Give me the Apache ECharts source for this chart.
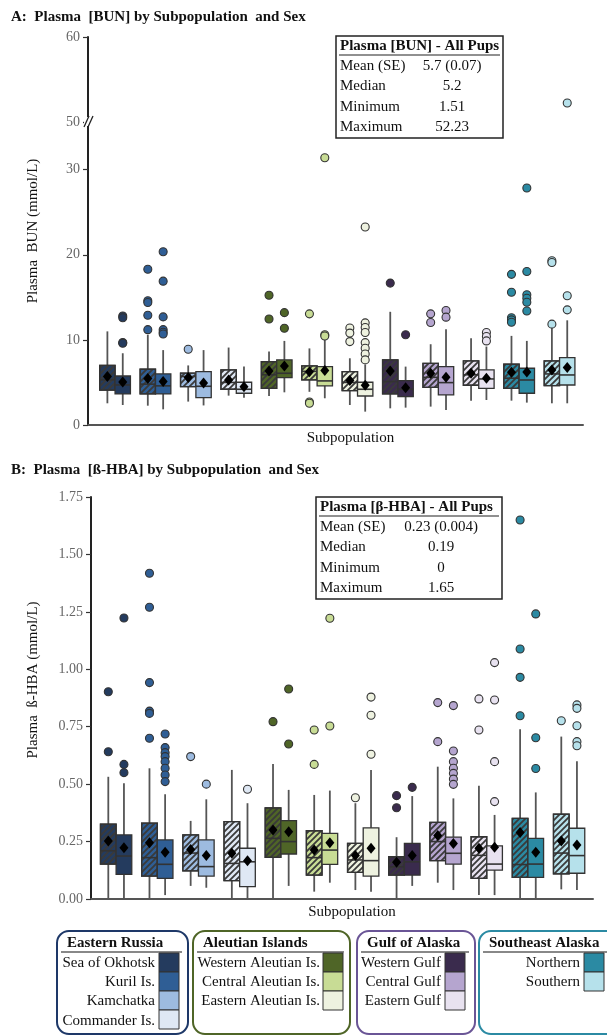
<!DOCTYPE html>
<html>
<head>
<meta charset="utf-8">
<script src="https://cdn.jsdelivr.net/npm/echarts@6.0.0/dist/echarts.min.js"></script>
<style>
  html, body { margin: 0; padding: 0; background: #fff; }
  #main { width: 607px; height: 1036px; }
</style>
</head>
<body>
<div id="main"></div>
<script>
// subpopulations (one pair of boxes each: female hatched, male plain)
var subpops = ['Sea of Okhotsk', 'Kuril Is.', 'Kamchatka', 'Commander Is.',
  'Western Aleutian Is.', 'Central Aleutian Is.', 'Eastern Aleutian Is.',
  'Western Gulf', 'Central Gulf', 'Eastern Gulf', 'Northern', 'Southern'];
var subColors = ['#243b5e', '#2f5e95', '#9dbbe0', '#dfe8f4',
  '#4f6527', '#c8dc95', '#eef2e0',
  '#3a2b4d', '#b5a5cf', '#e8e2f0', '#2b8aa3', '#b6e1eb'];
var regions = ['Eastern Russia', 'Aleutian Islands', 'Gulf of Alaska', 'Southeast Alaska'];
var regionSize = [4, 3, 3, 2];
var regionBorder = ['#1e3868', '#4f6527', '#6a5596', '#2b8aa3'];

// [low whisker, q1, median, q3, high whisker, mean]
var bunFemale = [
  [2.55, 4.1, 5.3, 7.0, 11.0, 5.7],
  [2.27, 3.65, 4.8, 6.55, 10.6, 5.45],
  [2.75, 4.5, 5.7, 6.1, 7.0, 5.57],
  [3.45, 4.2, 5.0, 6.47, 9.1, 5.3],
  [3.4, 4.3, 5.9, 7.45, 8.63, 6.35],
  [3.9, 5.3, 6.3, 6.94, 9.0, 6.27],
  [2.35, 4.04, 5.0, 6.27, 7.84, 5.22],
  [1.96, 3.65, 5.1, 7.65, 13.3, 6.35],
  [2.16, 4.43, 5.6, 7.25, 9.49, 6.08],
  [2.86, 4.67, 5.9, 7.53, 10.2, 6.08],
  [2.86, 4.31, 5.5, 7.14, 10.47, 6.2],
  [2.55, 4.63, 6.0, 7.53, 11.84, 6.47]
];
var bunMale = [
  [2.35, 3.65, 4.7, 5.76, 8.43, 5.06],
  [1.84, 3.65, 4.6, 6.0, 8.8, 5.1],
  [2.3, 3.22, 4.55, 6.27, 8.8, 4.94],
  [3.2, 3.73, 4.2, 5.02, 6.86, 4.5],
  [3.84, 5.57, 6.08, 7.65, 9.88, 6.94],
  [3.14, 4.6, 5.18, 6.86, 10.0, 6.39],
  [1.57, 3.41, 4.2, 5.02, 7.1, 4.67],
  [2.04, 3.33, 4.2, 5.22, 6.86, 4.39],
  [1.76, 3.53, 4.98, 6.86, 11.25, 5.6],
  [2.94, 4.31, 5.41, 6.47, 9.22, 5.49],
  [2.63, 3.73, 5.29, 6.67, 9.88, 6.24],
  [2.55, 4.7, 5.88, 7.92, 12.3, 6.75]
];
var bunFemaleOut = [
  [], [18.3, 14.6, 14.4, 12.9, 11.2], [8.9], [], [15.25, 12.45], [13.06, 2.7, 2.55],
  [11.4, 10.8, 9.8], [16.67], [13.06, 12.04], [], [17.7, 15.6, 12.6, 12.35, 12.08], [19.3, 19.1, 11.85]
];
var bunMaleOut = [
  [12.8, 12.6, 9.7, 9.6], [20.35, 16.9, 12.7, 11.2, 10.9, 10.7], [], [], [13.2, 11.37], [31.4, 10.6, 10.45],
  [23.26, 12.0, 11.45, 10.86, 9.68, 9.02, 8.35, 7.65], [10.6], [13.45, 12.67], [10.86, 10.39, 9.88],
  [27.84, 18.04, 15.3, 14.9, 14.43, 13.4], [52.23, 15.18, 13.53]
];

var hbaFemale = [
  [0.0, 0.152, 0.21, 0.326, 0.532, 0.252],
  [0.0, 0.10, 0.18, 0.33, 0.569, 0.245],
  [0.057, 0.122, 0.20, 0.279, 0.34, 0.216],
  [0.0, 0.08, 0.155, 0.337, 0.562, 0.199],
  [0.0, 0.181, 0.264, 0.397, 0.588, 0.30],
  [0.032, 0.104, 0.18, 0.297, 0.453, 0.213],
  [0.039, 0.116, 0.17, 0.242, 0.417, 0.189],
  [0.0, 0.104, 0.14, 0.184, 0.269, 0.16],
  [0.071, 0.167, 0.25, 0.334, 0.576, 0.276],
  [0.017, 0.09, 0.19, 0.271, 0.493, 0.221],
  [0.0, 0.094, 0.15, 0.351, 0.739, 0.289],
  [0.042, 0.109, 0.2, 0.369, 0.707, 0.252]
];
var hbaMale = [
  [0.0, 0.107, 0.187, 0.279, 0.504, 0.223],
  [0.017, 0.09, 0.151, 0.257, 0.456, 0.203],
  [0.049, 0.10, 0.141, 0.257, 0.434, 0.189],
  [0.0, 0.054, 0.162, 0.221, 0.417, 0.167],
  [0.057, 0.196, 0.25, 0.341, 0.475, 0.293],
  [0.071, 0.151, 0.213, 0.286, 0.472, 0.245],
  [0.032, 0.10, 0.167, 0.31, 0.562, 0.221],
  [0.057, 0.104, 0.162, 0.242, 0.448, 0.189],
  [0.039, 0.152, 0.199, 0.269, 0.438, 0.242],
  [0.017, 0.126, 0.152, 0.231, 0.366, 0.225],
  [0.0, 0.094, 0.152, 0.264, 0.464, 0.203],
  [0.039, 0.112, 0.189, 0.308, 0.60, 0.235]
];
var hbaFemaleOut = [
  [0.902, 0.641], [1.418, 1.27, 0.942, 0.818, 0.808, 0.70], [0.62], [], [0.772], [0.736, 0.586],
  [0.441], [0.45, 0.397], [0.855, 0.685], [0.871, 0.736], [1.65, 1.088, 0.965, 0.798], [0.776]
];
var hbaMaleOut = [
  [1.223, 0.586, 0.55], [0.718, 0.659, 0.637, 0.62, 0.598, 0.569, 0.54, 0.511], [0.50], [0.478],
  [0.914, 0.675], [1.222, 0.753], [0.879, 0.80, 0.63], [0.486],
  [0.842, 0.644, 0.598, 0.569, 0.547, 0.522, 0.499], [1.029, 0.866, 0.598, 0.424],
  [1.241, 0.702, 0.568], [0.845, 0.83, 0.754, 0.685, 0.667]
];

// summary tables
var statLabels = ['Mean (SE)', 'Median', 'Minimum', 'Maximum'];
var bunStatValues = ['5.7 (0.07)', '5.2', '1.51', '52.23'];
var hbaStatValues = ['0.23 (0.004)', '0.19', '0', '1.65'];

// BUN axis is broken: lower part 0..BREAK_LO, upper part BREAK_HI..60
var BREAK_LO = 35.6, BREAK_HI = 50;

var SERIF = '"Liberation Serif", "Times New Roman", serif';
var OFFSET = 0.19; // half of dodge distance, in pair units
var HALF = 0.19;   // half box width

// diagonal hatch tile for the female boxes
var hatch = document.createElement('canvas');
hatch.width = 6; hatch.height = 6;
(function () {
  var ctx = hatch.getContext('2d');
  ctx.strokeStyle = '#3a3a3a';
  ctx.lineWidth = 1.8;
  ctx.beginPath();
  ctx.moveTo(-1, 7); ctx.lineTo(7, -1);
  ctx.moveTo(-1, 1); ctx.lineTo(1, -1);
  ctx.moveTo(5, 7); ctx.lineTo(7, 5);
  ctx.stroke();
})();

function boxData(rows, side, hatched) {
  return rows.map(function (r, i) {
    return [i + side * OFFSET, r[0], r[1], r[2], r[3], r[4], r[5], i, hatched];
  });
}

function outData(lists, side, keep) {
  var res = [];
  lists.forEach(function (list, i) {
    list.forEach(function (v) {
      if (keep(v)) res.push({ value: [i + side * OFFSET, v], itemStyle: { color: subColors[i] } });
    });
  });
  return res;
}

function renderBox(params, api) {
  var x = api.value(0);
  var cx = api.coord([x, api.value(2)])[0];
  var hw = api.coord([x + HALF, api.value(2)])[0] - cx;
  var yLow = api.coord([x, api.value(1)])[1];
  var yQ1 = api.coord([x, api.value(2)])[1];
  var yMed = api.coord([x, api.value(3)])[1];
  var yQ3 = api.coord([x, api.value(4)])[1];
  var yHigh = api.coord([x, api.value(5)])[1];
  var yMean = api.coord([x, api.value(6)])[1];
  var fill = subColors[api.value(7)];
  var box = { x: cx - hw, y: yQ3, width: hw * 2, height: yQ1 - yQ3 };
  var children = [
    { type: 'line', shape: { x1: cx, y1: yHigh, x2: cx, y2: yLow }, style: { stroke: '#555', lineWidth: 1.8 } },
    { type: 'rect', shape: box, style: { fill: fill, stroke: '#333', lineWidth: 1.3 } }
  ];
  if (api.value(8) === 1) {
    children.push({ type: 'rect', shape: box, style: { fill: { image: hatch, repeat: 'repeat' }, stroke: '#333', lineWidth: 1.3 } });
  }
  children.push({ type: 'line', shape: { x1: cx - hw, y1: yMed, x2: cx + hw, y2: yMed }, style: { stroke: '#333', lineWidth: 1.6 } });
  children.push({
    type: 'polygon',
    shape: { points: [[cx, yMean - 5.5], [cx + 4.5, yMean], [cx, yMean + 5.5], [cx - 4.5, yMean]] },
    style: { fill: '#000' }
  });
  return { type: 'group', children: children };
}

function boxSeries(idx, rows, side, hatched) {
  return {
    type: 'custom', xAxisIndex: idx, yAxisIndex: idx, z: 2,
    renderItem: renderBox,
    encode: { x: 0, y: [1, 2, 3, 4, 5, 6] },
    data: boxData(rows, side, hatched),
    silent: true
  };
}

function outSeries(idx, lists, side, keep) {
  return {
    type: 'scatter', xAxisIndex: idx, yAxisIndex: idx, z: 3,
    symbolSize: 8,
    itemStyle: { borderColor: '#333', borderWidth: 1.1, opacity: 1 },
    data: outData(lists, side, keep || function () { return true; }),
    silent: true
  };
}

function xAxisOf(idx, min, pad, visible) {
  return {
    gridIndex: idx, type: 'value', min: min, max: 11.58, show: visible,
    axisLine: { show: true, onZero: false, lineStyle: { color: '#555', width: 2 } },
    axisTick: { show: false }, axisLabel: { show: false }, splitLine: { show: false },
    name: visible ? 'Subpopulation' : '', nameLocation: 'middle', nameGap: 6,
    nameTextStyle: { fontFamily: SERIF, fontSize: 15, color: '#111', verticalAlign: 'top', padding: [0, 0, 0, pad] }
  };
}

function yAxisOf(idx, min, max, interval, fmt) {
  return {
    gridIndex: idx, type: 'value', min: min, max: max, interval: interval,
    axisLine: { show: true, onZero: false, lineStyle: { color: '#222', width: 2 } },
    axisTick: { show: true, length: 5, lineStyle: { color: '#333', width: 1.2 } },
    axisLabel: { fontFamily: SERIF, fontSize: 14, color: '#666', margin: 8, showMaxLabel: true, formatter: fmt },
    splitLine: { show: false }
  };
}

function txt(text, x, y, font, align, extra) {
  var el = {
    type: 'text', x: x, y: y,
    style: { text: text, x: 0, y: 0, font: font, fill: '#111', align: align, verticalAlign: 'middle', textAlign: align, textVerticalAlign: 'middle' }
  };
  if (extra) Object.assign(el, extra);
  return el;
}

// table graphics
function statTable(x, y, w, title, values, valueX) {
  var els = [
    { type: 'rect', shape: { x: x, y: y, width: w, height: 102 }, style: { fill: '#fff', stroke: '#222', lineWidth: 1.5 }, z: 10 },
    txt(title, x + 4, y + 10, 'bold 15px ' + SERIF, 'left', { z: 11 }),
    { type: 'line', shape: { x1: x + 3, y1: y + 19, x2: x + w - 3, y2: y + 19 }, style: { stroke: '#222', lineWidth: 1.2 }, z: 11 }
  ];
  statLabels.forEach(function (lab, k) {
    var ty = y + 30 + k * 20.3;
    els.push(txt(lab, x + 4, ty, '15px ' + SERIF, 'left', { z: 11 }));
    els.push(txt(values[k], valueX, ty, '15px ' + SERIF, 'center', { z: 11 }));
  });
  return els;
}

// legend graphics
function legendEls() {
  var els = [];
  var boxX = [57, 193, 357, 479];
  var boxW = [131, 157, 118, 140];
  var textRight = [155, 320, 441, 580];
  var swatchX = [159, 323, 445, 584];
  var start = 0;
  regions.forEach(function (reg, g) {
    var bx = boxX[g];
    els.push({ type: 'rect', shape: { x: bx, y: 931, width: boxW[g], height: 103, r: 12 }, style: { fill: '#fff', stroke: regionBorder[g], lineWidth: 2 } });
    els.push(txt(reg, bx + 10, 943, 'bold 15px ' + SERIF, 'left'));
    els.push({ type: 'line', shape: { x1: bx + 4, y1: 952, x2: bx + boxW[g] - 6, y2: 952 }, style: { stroke: '#888', lineWidth: 2 } });
    for (var k = 0; k < regionSize[g]; k++) {
      var si = start + k;
      els.push({ type: 'rect', shape: { x: swatchX[g], y: 953 + k * 19, width: 20, height: 19 }, style: { fill: subColors[si], stroke: '#333', lineWidth: 1 } });
      els.push(txt(subpops[si], textRight[g], 963 + k * 19.2, '15px ' + SERIF, 'right'));
    }
    start += regionSize[g];
  });
  return els;
}

var chart = echarts.init(document.getElementById('main'), null, { renderer: 'canvas' });

var isUpper = function (v) { return v >= BREAK_HI; };
var isLower = function (v) { return v < BREAK_HI; };

var option = {
  backgroundColor: '#fff',
  animation: false,
  title: [
    { text: 'A:  Plasma  [BUN] by Subpopulation  and Sex', left: 6, top: 5, textStyle: { fontFamily: SERIF, fontWeight: 'bold', fontSize: 15, color: '#111' } },
    { text: 'B:  Plasma  [ß-HBA] by Subpopulation  and Sex', left: 6, top: 458, textStyle: { fontFamily: SERIF, fontWeight: 'bold', fontSize: 15, color: '#111' } }
  ],
  grid: [
    { left: 88, top: 37, width: 495, height: 85 },   // A upper (above the break)
    { left: 88, top: 122, width: 495, height: 303 }, // A lower
    { left: 91, top: 497, width: 502, height: 402 }  // B
  ],
  xAxis: [xAxisOf(0, -0.67, 0, false), xAxisOf(1, -0.67, 30, true), xAxisOf(2, -0.61, 20, true)],
  yAxis: [
    yAxisOf(0, BREAK_HI, 60, 10, function (v) { return String(Math.round(v)); }),
    yAxisOf(1, 0, BREAK_LO, 10, function (v) { return Math.abs(v - Math.round(v / 10) * 10) < 1e-6 ? String(Math.round(v)) : ''; }),
    yAxisOf(2, 0, 1.75, 0.25, function (v) { return v.toFixed(2); })
  ],
  series: [
    boxSeries(1, bunFemale, -1, 1),
    boxSeries(1, bunMale, 1, 0),
    outSeries(1, bunFemaleOut, -1, isLower),
    outSeries(1, bunMaleOut, 1, isLower),
    outSeries(0, bunFemaleOut, -1, isUpper),
    outSeries(0, bunMaleOut, 1, isUpper),
    boxSeries(2, hbaFemale, -1, 1),
    boxSeries(2, hbaMale, 1, 0),
    outSeries(2, hbaFemaleOut, -1),
    outSeries(2, hbaMaleOut, 1)
  ],
  graphic: [].concat(
    [
      txt('Plasma  BUN (mmol/L)', 33, 231, '15px ' + SERIF, 'center', { rotation: Math.PI / 2 }),
      txt('Plasma  ß-HBA (mmol/L)', 33, 680, '15px ' + SERIF, 'center', { rotation: Math.PI / 2 }),
      { type: 'rect', shape: { x: 84, y: 117, width: 10, height: 9 }, style: { fill: '#fff' }, z: 19 },
      { type: 'line', shape: { x1: 84, y1: 127, x2: 89, y2: 116 }, style: { stroke: '#222', lineWidth: 1.3 }, z: 20 },
      { type: 'line', shape: { x1: 88, y1: 127, x2: 93, y2: 116 }, style: { stroke: '#222', lineWidth: 1.3 }, z: 20 }
    ],
    statTable(336, 36, 167, 'Plasma [BUN] - All Pups', bunStatValues, 452),
    statTable(316, 497, 186, 'Plasma [β-HBA] - All Pups', hbaStatValues, 441),
    legendEls()
  )
};

chart.setOption(option);
</script>
</body>
</html>
